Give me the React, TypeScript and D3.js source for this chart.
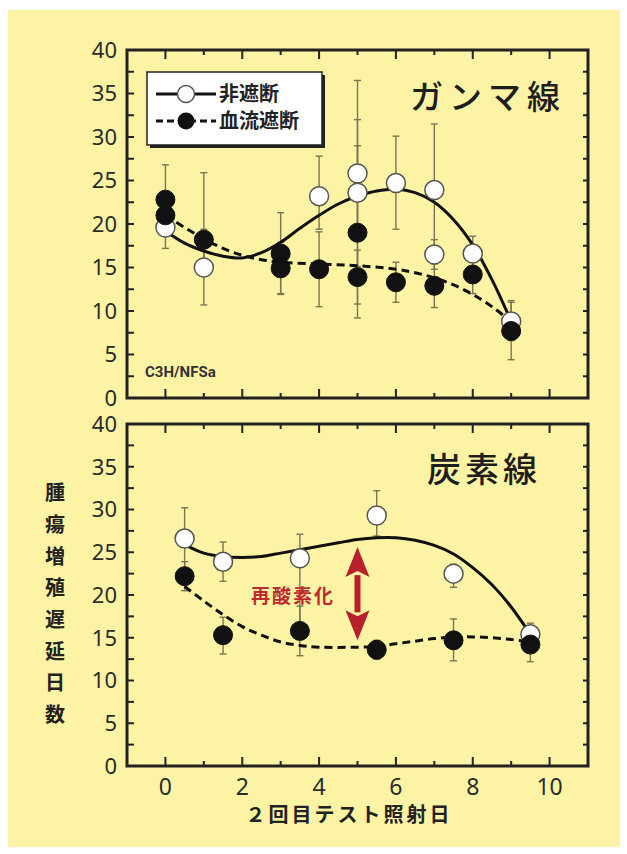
import * as d3 from "d3";

type Pt = { x: number; y: number; lo: number; hi: number };

// ガンマ線 panel
const gammaOpen: Pt[] = [
  { x: 0, y: 19.6, lo: 17.2, hi: 22.0 },
  { x: 1, y: 15.0, lo: 10.7, hi: 19.4 },
  { x: 4, y: 23.2, lo: 19.4, hi: 27.8 },
  { x: 5, y: 25.8, lo: 15.1, hi: 36.5 },
  { x: 5, y: 23.6, lo: 18.2, hi: 29.0 },
  { x: 6, y: 24.7, lo: 19.4, hi: 30.1 },
  { x: 7, y: 23.9, lo: 16.3, hi: 31.5 },
  { x: 7, y: 16.5, lo: 14.8, hi: 18.2 },
  { x: 8, y: 16.6, lo: 14.6, hi: 18.6 },
  { x: 9, y: 8.8, lo: 6.6, hi: 11.2 },
];
const gammaBlocked: Pt[] = [
  { x: 0, y: 22.8, lo: 20.0, hi: 26.8 },
  { x: 0, y: 21.0, lo: 19.0, hi: 23.0 },
  { x: 1, y: 18.2, lo: 14.0, hi: 25.9 },
  { x: 3, y: 16.6, lo: 12.0, hi: 21.3 },
  { x: 3, y: 14.9, lo: 11.9, hi: 17.9 },
  { x: 4, y: 14.8, lo: 10.5, hi: 19.1 },
  { x: 5, y: 19.0, lo: 9.2, hi: 32.0 },
  { x: 5, y: 13.9, lo: 10.8, hi: 17.0 },
  { x: 6, y: 13.3, lo: 11.0, hi: 15.6 },
  { x: 7, y: 12.9, lo: 10.4, hi: 15.4 },
  { x: 8, y: 14.2, lo: 12.0, hi: 16.4 },
  { x: 9, y: 7.7, lo: 4.4, hi: 11.0 },
];
const gammaOpenFit: [number, number][] = [
  [0, 19.2], [0.5, 17.8], [1, 16.9], [1.5, 16.3], [2, 16.1], [2.5, 16.7], [3, 17.9],
  [3.5, 19.5], [4, 21.0], [4.5, 22.3], [5, 23.2], [5.5, 23.8], [6, 24.0], [6.5, 23.6],
  [7, 22.5], [7.5, 20.5], [8, 17.6], [8.5, 13.6], [9, 8.8],
];
const gammaBlockedFit: [number, number][] = [
  [0, 21.0], [0.5, 19.6], [1, 18.3], [1.5, 17.2], [2, 16.4], [2.5, 15.9], [3, 15.6],
  [4, 15.4], [5, 15.2], [6, 14.8], [6.5, 14.4], [7, 13.8], [7.5, 13.0], [8, 11.9],
  [8.5, 10.5], [9, 8.8],
];

// 炭素線 panel
const carbonOpen: Pt[] = [
  { x: 0.5, y: 26.6, lo: 23.0, hi: 30.2 },
  { x: 1.5, y: 23.9, lo: 21.6, hi: 26.2 },
  { x: 3.5, y: 24.3, lo: 16.5, hi: 27.1 },
  { x: 5.5, y: 29.3, lo: 26.9, hi: 32.2 },
  { x: 7.5, y: 22.5, lo: 20.9, hi: 23.6 },
  { x: 9.5, y: 15.4, lo: 14.0, hi: 16.7 },
];
const carbonBlocked: Pt[] = [
  { x: 0.5, y: 22.2, lo: 20.5, hi: 23.9 },
  { x: 1.5, y: 15.3, lo: 13.1, hi: 17.4 },
  { x: 3.5, y: 15.8, lo: 12.9, hi: 18.7 },
  { x: 5.5, y: 13.6, lo: 12.5, hi: 14.7 },
  { x: 7.5, y: 14.7, lo: 12.3, hi: 17.2 },
  { x: 9.5, y: 14.2, lo: 12.2, hi: 16.2 },
];
const carbonOpenFit: [number, number][] = [
  [0.5, 25.9], [1, 24.9], [1.5, 24.5], [2, 24.4], [2.5, 24.5], [3, 24.9], [3.5, 25.3],
  [4, 25.7], [4.5, 26.1], [5, 26.5], [5.5, 26.7], [6, 26.7], [6.5, 26.4], [7, 25.8],
  [7.5, 24.8], [8, 23.2], [8.5, 21.2], [9, 18.6], [9.5, 15.4],
];
const carbonBlockedFit: [number, number][] = [
  [0.5, 21.0], [1, 19.3], [1.5, 17.7], [2, 16.3], [2.5, 15.3], [3, 14.5], [3.5, 14.1],
  [4, 13.9], [5, 13.9], [5.5, 14.0], [6, 14.3], [6.5, 14.6], [7, 14.9], [7.5, 15.1],
  [8, 15.1], [8.5, 15.0], [9, 14.8], [9.5, 14.5],
];
const reoxArrow = { x: 5, from: 14.7, to: 25.6 };

const xTickLabels = [0, 2, 4, 6, 8, 10];
const yTickLabels = [0, 5, 10, 15, 20, 25, 30, 35, 40];
const legendLabels = ["非遮断", "血流遮断"];
const yTitle = "腫瘍増殖遅延日数";
const xTitle = "２回目テスト照射日";

const W = 627;
const H = 854;
const BG = "#fcf4a4";
const INK = "#222";
const ERR = "#7b7552";
const NUM_FONT = "'Noto Sans', 'DejaVu Sans', sans-serif";
const JP_FONT = "'Noto Sans CJK JP', sans-serif";

const x = d3.scaleLinear().domain([-1, 11]).range([127, 588]);

function Panel({
  top, bottom, open, blocked, openFit, blockedFit, showXLabels,
}: {
  top: number; bottom: number; open: Pt[]; blocked: Pt[];
  openFit: [number, number][]; blockedFit: [number, number][]; showXLabels: boolean;
}) {
  const y = d3.scaleLinear().domain([0, 40]).range([bottom, top]);
  const line = d3.line<[number, number]>().x((d) => x(d[0])).y((d) => y(d[1])).curve(d3.curveCatmullRom.alpha(0.5));
  const [x0, x1] = x.range();
  const yMinor = d3.range(0, 40.01, 2.5).filter((v) => v > 0 && v < 40);
  const xMinor = d3.range(0, 10.01, 1);
  const errBar = (d: Pt, i: number) => (
    <g key={i} stroke={ERR} strokeWidth={1.4}>
      <line x1={x(d.x)} x2={x(d.x)} y1={y(d.lo)} y2={y(d.hi)} />
      <line x1={x(d.x) - 3.5} x2={x(d.x) + 3.5} y1={y(d.lo)} y2={y(d.lo)} />
      <line x1={x(d.x) - 3.5} x2={x(d.x) + 3.5} y1={y(d.hi)} y2={y(d.hi)} />
    </g>
  );
  return (
    <g>
      {/* ticks */}
      <g stroke={INK} strokeWidth={2}>
        {yMinor.map((v) => (
          <g key={v}>
            <line x1={x0} x2={x0 + 7} y1={y(v)} y2={y(v)} />
            <line x1={x1} x2={x1 - 5} y1={y(v)} y2={y(v)} />
          </g>
        ))}
        {xMinor.map((v) => {
          const len = v % 2 === 0 ? 9 : 5;
          return (
            <g key={v}>
              <line x1={x(v)} x2={x(v)} y1={top} y2={top + len} />
              <line x1={x(v)} x2={x(v)} y1={bottom} y2={bottom - len} />
            </g>
          );
        })}
      </g>
      <rect x={x0} y={top} width={x1 - x0} height={bottom - top} fill="none" stroke={INK} strokeWidth={3} />
      {yTickLabels.map((v) => (
        <text key={v} x={117} y={y(v)} dy="0.36em" textAnchor="end" fontFamily={NUM_FONT} fontSize={22} fill="#2b2b2b">
          {v}
        </text>
      ))}
      {showXLabels &&
        xTickLabels.map((v) => (
          <text key={v} x={x(v)} y={bottom + 21} dy="0.36em" textAnchor="middle" fontFamily={NUM_FONT} fontSize={23} fill="#2b2b2b">
            {v}
          </text>
        ))}
      {open.map(errBar)}
      {blocked.map(errBar)}
      <path d={line(openFit) ?? ""} fill="none" stroke="#111" strokeWidth={3} />
      <path d={line(blockedFit) ?? ""} fill="none" stroke="#111" strokeWidth={3} strokeDasharray="8 5" />
      {open.map((d, i) => (
        <circle key={i} cx={x(d.x)} cy={y(d.y)} r={9.5} fill="#fff" stroke="#555" strokeWidth={1.5} />
      ))}
      {blocked.map((d, i) => (
        <circle key={i} cx={x(d.x)} cy={y(d.y)} r={9.5} fill="#111" stroke="#111" strokeWidth={1} />
      ))}
    </g>
  );
}

export default function App() {
  const yBottom = d3.scaleLinear().domain([0, 40]).range([766, 424]);
  const ax = x(reoxArrow.x);
  const aTop = yBottom(reoxArrow.to);
  const aBot = yBottom(reoxArrow.from);
  const headL = 30;
  const headW = 12;
  return (
    <>
      <style>{`body{margin:0}`}</style>
      <svg width={W} height={H} style={{ display: "block", background: "#fff" }}>
        <rect x={8} y={10} width={612} height={837} fill={BG} />

        <Panel top={50} bottom={398} open={gammaOpen} blocked={gammaBlocked}
          openFit={gammaOpenFit} blockedFit={gammaBlockedFit} showXLabels={false} />
        <Panel top={424} bottom={766} open={carbonOpen} blocked={carbonBlocked}
          openFit={carbonOpenFit} blockedFit={carbonBlockedFit} showXLabels={true} />

        {/* legend */}
        <rect x={150} y={75} width={175} height={73} fill="#222" />
        <rect x={147} y={72} width={175} height={73} fill="#fff" stroke="#222" strokeWidth={1.5} />
        <line x1={156} x2={216} y1={94} y2={94} stroke="#111" strokeWidth={3} />
        <circle cx={186} cy={94} r={8.5} fill="#fff" stroke="#555" strokeWidth={1.5} />
        <line x1={156} x2={216} y1={121} y2={121} stroke="#111" strokeWidth={3} strokeDasharray="7 4" />
        <circle cx={186} cy={121} r={8.5} fill="#111" />
        {legendLabels.map((t, i) => (
          <text key={t} x={219} y={94 + i * 27} dy="0.36em" fontFamily={JP_FONT} fontWeight={700} fontSize={20} fill="#222">
            {t}
          </text>
        ))}

        <text x={410} y={97} dy="0.36em" fontFamily={JP_FONT} fontWeight={500} fontSize={33} letterSpacing={6} fill="#1e1e1e">ガンマ線</text>
        <text x={427} y={470} dy="0.36em" fontFamily={JP_FONT} fontWeight={500} fontSize={34} letterSpacing={4} fill="#1e1e1e">炭素線</text>
        <text x={145} y={372} dy="0.36em" fontFamily="'Liberation Sans Narrow', 'Roboto', sans-serif" fontWeight={700} fontSize={15} fill="#333">C3H/NFSa</text>

        {/* reoxygenation arrow */}
        <g fill="#b8202b" stroke="none">
          <rect x={ax - 3} y={aTop + headL - 2} width={6} height={aBot - aTop - 2 * headL + 4} />
          <path d={`M${ax},${aTop} L${ax + headW},${aTop + headL} L${ax},${aTop + headL - 6} L${ax - headW},${aTop + headL} Z`} />
          <path d={`M${ax},${aBot} L${ax + headW},${aBot - headL} L${ax},${aBot - headL + 6} L${ax - headW},${aBot - headL} Z`} />
        </g>
        <text x={293} y={596} dy="0.36em" textAnchor="middle" fontFamily={JP_FONT} fontWeight={700} fontSize={19} letterSpacing={2} fill="#c0282f">再酸素化</text>

        {/* axis titles */}
        {yTitle.split("").map((c, i) => (
          <text key={i} x={55} y={493 + i * 31.7} dy="0.36em" textAnchor="middle" fontFamily={JP_FONT} fontWeight={700} fontSize={20} fill="#222">
            {c}
          </text>
        ))}
        <text x={349} y={815} dy="0.36em" textAnchor="middle" fontFamily={JP_FONT} fontWeight={700} fontSize={20} letterSpacing={3} fill="#222">{xTitle}</text>
      </svg>
    </>
  );
}
